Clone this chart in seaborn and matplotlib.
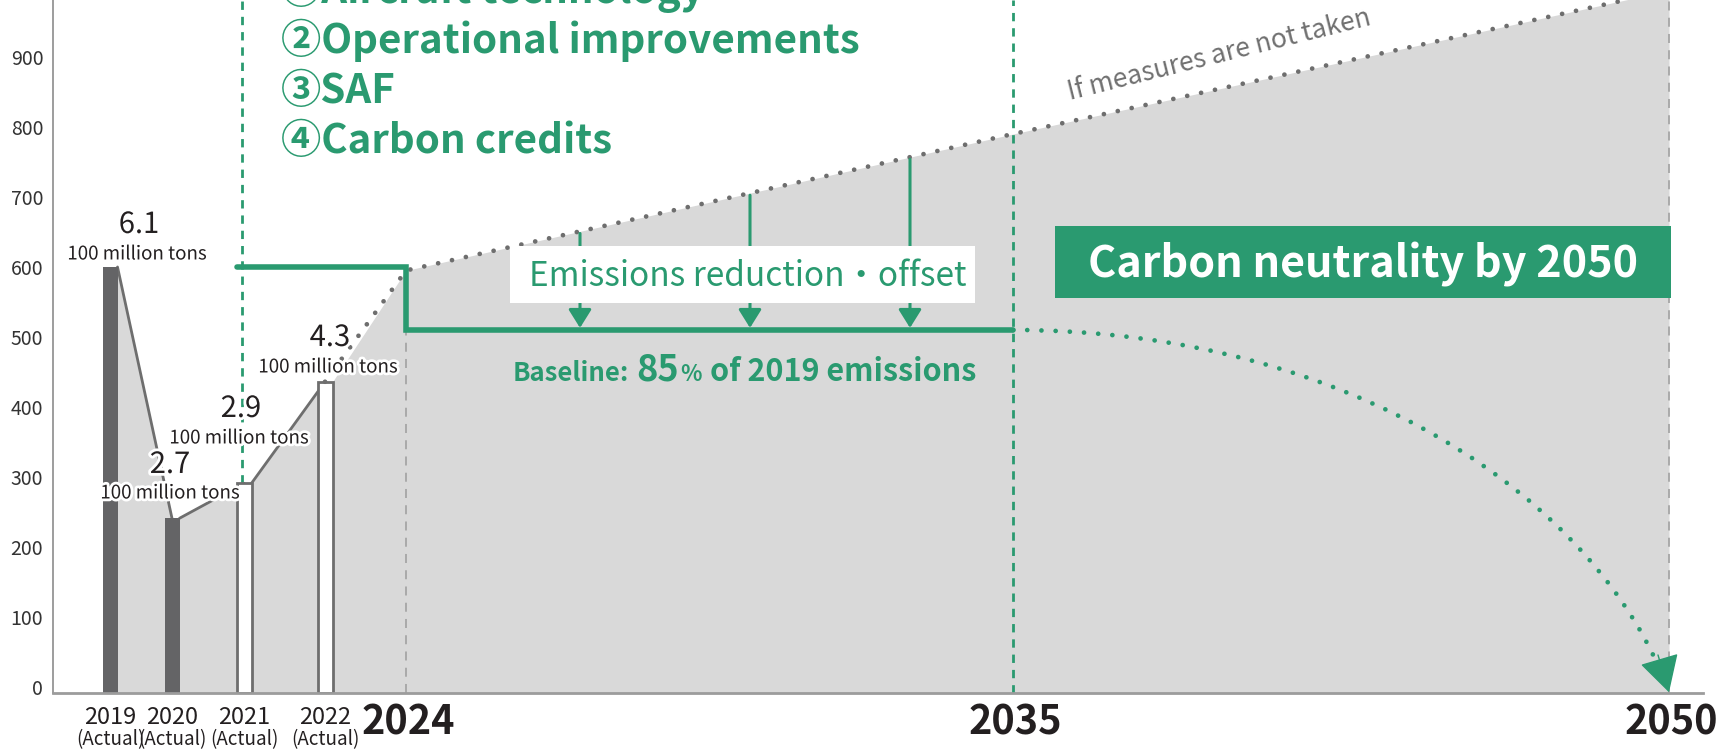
import matplotlib
matplotlib.use('Agg')
import numpy as np
import seaborn as sns
import matplotlib.pyplot as plt
import matplotlib.patheffects as pe
from matplotlib.patches import Rectangle, FancyArrowPatch, PathPatch
from matplotlib.path import Path

# =========================================
# DATA (million tons CO2)
# =========================================

actual_years = ["2019", "2020", "2021", "2022"]
actual_values = [600, 241, 291, 436]
actual_labels = ["6.1", "2.7", "2.9", "4.3"]
actual_filled = [True, True, False, False]

bau_years = ["2022", "2024", "2035", "2050"]
bau_values = [436, 595, 790, 995]

target_years = ["2021", "2024", "2035"]
target_values = [600, 510, 510]

milestone_years = ["2024", "2035", "2050"]

measures = [
    "①Aircraft technology",
    "②Operational improvements",
    "③SAF",
    "④Carbon credits",
]

# =========================================
# LAYOUT (schematic x axis, in pixels)
# =========================================

XPOS = {
    "2019": 110, "2020": 172, "2021": 244, "2022": 325,
    "2024": 406, "2035": 1013, "2050": 1669,
}
BAR_W = 15
ARROW_X = [580, 750, 910]

GREEN = "#2a9a70"
DARK = "#646466"
LINE_GRAY = "#6e6e6e"
FILL_GRAY = "#d9d9d9"
TEXT = "#231f20"

YMIN, YMAX = -8.6, 981.4


def row(r):
    # pixel row (from top of the image) -> y value
    return (687 - r) / 0.7


sns.set_theme(style="white")
plt.rcParams['font.family'] = ['Noto Sans CJK JP', 'DejaVu Sans']

fig = plt.figure(figsize=(17.2, 7.55), dpi=100)
ax = fig.add_axes([53 / 1720, 62 / 755, 1650 / 1720, 693 / 755])
ax.set_xlim(53, 1703)
ax.set_ylim(YMIN, YMAX)

# =========================================
# GRAY AREA
# =========================================

xs, ys = [], []
for i, (yr, v) in enumerate(zip(actual_years, actual_values)):
    x = XPOS[yr]
    if i == 0:
        xs += [x - BAR_W / 2, x + BAR_W / 2]
    else:
        xs += [x, x + BAR_W / 2]
    ys += [v, v]
for yr, v in zip(bau_years[1:], bau_values[1:]):
    xs.append(XPOS[yr])
    ys.append(v)

ax.fill_between(xs, YMIN, ys, color=FILL_GRAY, lw=0, zorder=1)

# line joining the actual bars
for i in range(len(actual_years) - 1):
    x0 = XPOS[actual_years[i]] + BAR_W / 2
    x1 = XPOS[actual_years[i + 1]]
    ax.plot([x0, x1], [actual_values[i], actual_values[i + 1]],
            color=LINE_GRAY, lw=2.0, zorder=2)

# bars
for yr, v, filled in zip(actual_years, actual_values, actual_filled):
    ax.bar(XPOS[yr], v - YMIN, bottom=YMIN, width=BAR_W,
           color=DARK if filled else "white",
           edgecolor=DARK if filled else LINE_GRAY,
           linewidth=0 if filled else 2.0, zorder=3)

# if measures are not taken
sns.lineplot(x=[XPOS[y] for y in bau_years], y=bau_values, ax=ax,
             color=LINE_GRAY, lw=3.4, linestyle=(0, (0.01, 3.0)),
             dash_capstyle='round', zorder=3)

# =========================================
# VERTICAL GUIDES
# =========================================

ax.plot([XPOS["2021"] - 2] * 2, [actual_values[2], YMAX], color=GREEN,
        lw=2.0, linestyle=(0, (3, 2.5)), zorder=2)
ax.plot([XPOS["2035"]] * 2, [YMIN, YMAX], color=GREEN,
        lw=2.0, linestyle=(0, (3, 2.5)), zorder=2)
ax.plot([XPOS["2024"]] * 2, [YMIN, target_values[1]], color="#a6a6a6",
        lw=1.3, linestyle=(0, (5, 4)), zorder=2)
ax.plot([XPOS["2050"]] * 2, [YMIN, YMAX], color="#a6a6a6",
        lw=1.3, linestyle=(0, (5, 4)), zorder=2)

# target step line
tx = [XPOS[y] for y in target_years]
tx[0] -= 7
sns.lineplot(x=tx, y=target_values, ax=ax, color=GREEN, lw=4.0,
             drawstyle='steps-post', solid_joinstyle='miter', zorder=4)

# reduction arrows
for x in ARROW_X:
    top = np.interp(x, [XPOS[y] for y in bau_years], bau_values)
    ax.annotate("", xy=(x, target_values[-1] + 3), xytext=(x, top - 3),
                arrowprops=dict(arrowstyle="-|>,head_length=0.8,head_width=0.5",
                                color=GREEN, lw=2.2, shrinkA=0, shrinkB=0,
                                mutation_scale=14),
                zorder=4)

# dotted curve down to zero in 2050
x35, x50 = XPOS["2035"], XPOS["2050"]
y_end = YMIN + 1
verts = [(x35, target_values[-1]), (1350, target_values[-1]),
         (1600, row(500)), (x50, y_end)]
curve = PathPatch(Path(verts, [Path.MOVETO, Path.CURVE4, Path.CURVE4, Path.CURVE4]),
                  facecolor='none', edgecolor=GREEN, lw=3.4,
                  linestyle=(0, (0.01, 3.0)), capstyle='round', zorder=4)
ax.add_patch(curve)
ax.add_patch(FancyArrowPatch(
    posA=(x50 - 11, row(655)), posB=(x50, y_end),
    arrowstyle="-|>,head_length=1.45,head_width=0.8",
    mutation_scale=16, color=GREEN, lw=1.0,
    shrinkA=0, shrinkB=0, zorder=4))

# =========================================
# TEXT
# =========================================

for i, m in enumerate(measures):
    ax.text(281, row(3 + 50 * i), m, color=GREEN, fontsize=29,
            fontweight='bold', ha='left', va='baseline', zorder=6)

halo = [pe.withStroke(linewidth=4, foreground='white')]
value_pos = [(139, 225), (170, 465), (241, 409), (330, 338)]
unit_pos = [(137, 254), (170, 493), (239, 438), (328, 367)]
for lab, (vx, vy), (ux, uy) in zip(actual_labels, value_pos, unit_pos):
    ax.text(vx, row(vy), lab, fontsize=21, color=TEXT, ha='center',
            va='center', zorder=6, path_effects=halo)
    ax.text(ux, row(uy), "100 million tons", fontsize=13.5, color=TEXT,
            ha='center', va='center', zorder=6, path_effects=halo)

ax.text(1219, row(55), "If measures are not taken", fontsize=19,
        color="#707070", rotation=14, rotation_mode='anchor',
        ha='center', va='center', zorder=6)

ax.add_patch(Rectangle((510, row(303)), 465, row(246) - row(303),
                       facecolor='white', lw=0, zorder=5))
ax.text(748, row(286), "Emissions reduction・offset", fontsize=24,
        color=GREEN, ha='center', va='baseline', zorder=6)

ax.add_patch(Rectangle((1055, row(298)), 616, row(226) - row(298),
                       facecolor=GREEN, lw=0, zorder=5))
ax.text(1363, row(278), "Carbon neutrality by 2050", fontsize=31,
        fontweight='bold', color='white', ha='center', va='baseline',
        zorder=6)

# baseline caption, pieces set one after another
fig.canvas.draw()
renderer = fig.canvas.get_renderer()
pieces = [("Baseline:", 18.5, 7), ("85", 26, 1), ("%", 16, 8),
          ("of 2019 emissions", 22, 0)]
bx = 513
for txt, size, gap in pieces:
    t = ax.text(bx, row(381), txt, fontsize=size, fontweight='bold',
                color=GREEN, ha='left', va='baseline', zorder=6)
    bx += t.get_window_extent(renderer=renderer).width + gap

# x labels
for yr in actual_years:
    ax.text(XPOS[yr], row(718), yr, fontsize=17, color=TEXT,
            ha='center', va='center')
    ax.text(XPOS[yr], row(740), "(Actual)", fontsize=13.5, color=TEXT,
            ha='center', va='center')
for yr in milestone_years:
    ax.text(XPOS[yr] + 2, row(723), yr, fontsize=28.5, fontweight='bold',
            color=TEXT, ha='center', va='center')

# =========================================
# AXES
# =========================================

ax.set_xticks([])
ax.set_yticks(range(0, 1000, 100))
ax.tick_params(axis='y', length=0, pad=7, labelsize=14, labelcolor="#333333")
for s in ["top", "right"]:
    ax.spines[s].set_visible(False)
ax.spines["left"].set_color("#8c8c8c")
ax.spines["left"].set_linewidth(1.2)
ax.spines["bottom"].set_color("#9c9c9c")
ax.spines["bottom"].set_linewidth(2.0)
ax.spines["left"].set_zorder(7)
ax.spines["bottom"].set_zorder(7)

fig.savefig("out.png", dpi=100)
plt.close(fig)
